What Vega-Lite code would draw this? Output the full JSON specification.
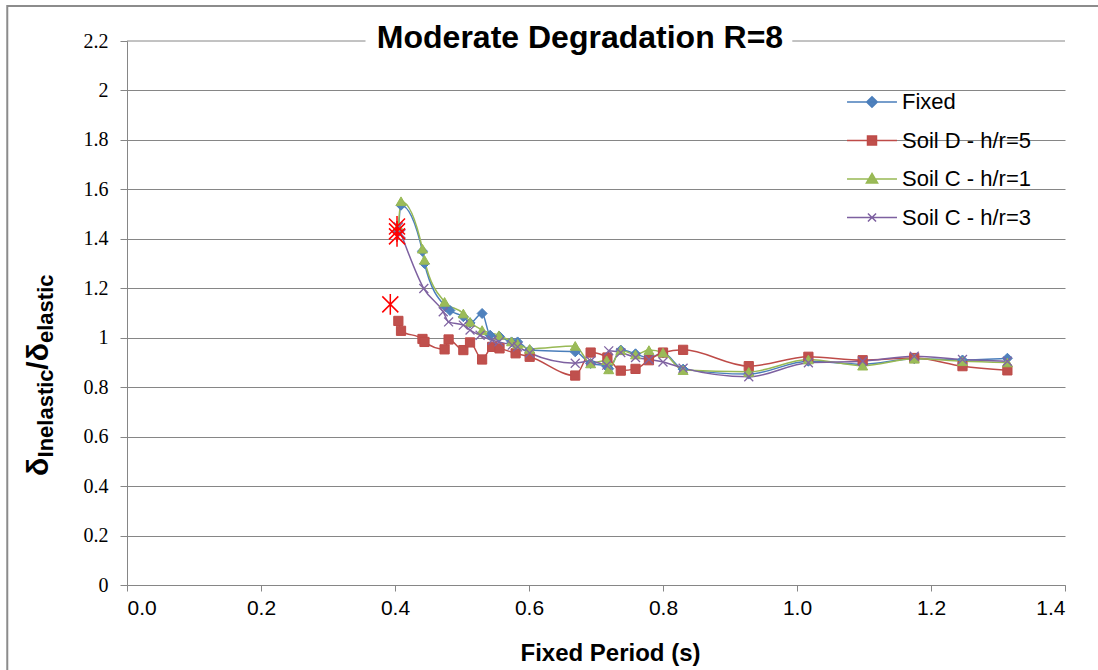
{
  "$schema": "https://vega.github.io/schema/vega-lite/v6.json",
  "width": 938,
  "height": 544,
  "autosize": {"type": "none"},
  "padding": {"left": 127, "top": 41, "right": 33, "bottom": 85},
  "background": "white",
  "config": {
    "view": {"stroke": null},
    "font": "Liberation Sans"
  },
  "title": {
    "text": "Moderate Degradation R=8",
    "font": "Liberation Sans",
    "fontSize": 32,
    "fontWeight": "bold",
    "color": "#000000",
    "anchor": "middle",
    "frame": "group",
    "dx": -16,
    "dy": 68,
    "offset": -7,
    "baseline": "alphabetic"
  },
  "datasets": {
    "series": [
      {"series": "Fixed", "period": 0.405, "ratio": 1.43},
      {"series": "Fixed", "period": 0.409, "ratio": 1.536},
      {"series": "Fixed", "period": 0.441, "ratio": 1.35},
      {"series": "Fixed", "period": 0.444, "ratio": 1.30},
      {"series": "Fixed", "period": 0.476, "ratio": 1.125},
      {"series": "Fixed", "period": 0.482, "ratio": 1.11},
      {"series": "Fixed", "period": 0.502, "ratio": 1.085},
      {"series": "Fixed", "period": 0.512, "ratio": 1.06},
      {"series": "Fixed", "period": 0.530, "ratio": 1.098},
      {"series": "Fixed", "period": 0.542, "ratio": 1.010},
      {"series": "Fixed", "period": 0.556, "ratio": 1.005},
      {"series": "Fixed", "period": 0.574, "ratio": 0.983},
      {"series": "Fixed", "period": 0.583, "ratio": 0.983},
      {"series": "Fixed", "period": 0.601, "ratio": 0.950},
      {"series": "Fixed", "period": 0.669, "ratio": 0.943},
      {"series": "Fixed", "period": 0.692, "ratio": 0.896},
      {"series": "Fixed", "period": 0.716, "ratio": 0.885},
      {"series": "Fixed", "period": 0.719, "ratio": 0.875},
      {"series": "Fixed", "period": 0.737, "ratio": 0.950},
      {"series": "Fixed", "period": 0.759, "ratio": 0.935},
      {"series": "Fixed", "period": 0.779, "ratio": 0.918},
      {"series": "Fixed", "period": 0.800, "ratio": 0.938},
      {"series": "Fixed", "period": 0.830, "ratio": 0.873},
      {"series": "Fixed", "period": 0.928, "ratio": 0.853},
      {"series": "Fixed", "period": 1.017, "ratio": 0.905},
      {"series": "Fixed", "period": 1.098, "ratio": 0.893},
      {"series": "Fixed", "period": 1.175, "ratio": 0.915},
      {"series": "Fixed", "period": 1.247, "ratio": 0.910},
      {"series": "Fixed", "period": 1.314, "ratio": 0.917},

      {"series": "Soil D - h/r=5", "period": 0.405, "ratio": 1.068},
      {"series": "Soil D - h/r=5", "period": 0.409, "ratio": 1.028},
      {"series": "Soil D - h/r=5", "period": 0.441, "ratio": 0.995},
      {"series": "Soil D - h/r=5", "period": 0.444, "ratio": 0.983},
      {"series": "Soil D - h/r=5", "period": 0.474, "ratio": 0.953},
      {"series": "Soil D - h/r=5", "period": 0.480, "ratio": 0.993},
      {"series": "Soil D - h/r=5", "period": 0.502, "ratio": 0.950},
      {"series": "Soil D - h/r=5", "period": 0.512, "ratio": 0.981},
      {"series": "Soil D - h/r=5", "period": 0.530, "ratio": 0.912},
      {"series": "Soil D - h/r=5", "period": 0.545, "ratio": 0.963},
      {"series": "Soil D - h/r=5", "period": 0.556, "ratio": 0.957},
      {"series": "Soil D - h/r=5", "period": 0.580, "ratio": 0.937},
      {"series": "Soil D - h/r=5", "period": 0.601, "ratio": 0.923},
      {"series": "Soil D - h/r=5", "period": 0.669, "ratio": 0.847},
      {"series": "Soil D - h/r=5", "period": 0.692, "ratio": 0.940},
      {"series": "Soil D - h/r=5", "period": 0.717, "ratio": 0.920},
      {"series": "Soil D - h/r=5", "period": 0.737, "ratio": 0.867},
      {"series": "Soil D - h/r=5", "period": 0.759, "ratio": 0.874},
      {"series": "Soil D - h/r=5", "period": 0.779, "ratio": 0.909},
      {"series": "Soil D - h/r=5", "period": 0.800, "ratio": 0.940},
      {"series": "Soil D - h/r=5", "period": 0.830, "ratio": 0.951},
      {"series": "Soil D - h/r=5", "period": 0.928, "ratio": 0.885},
      {"series": "Soil D - h/r=5", "period": 1.017, "ratio": 0.923},
      {"series": "Soil D - h/r=5", "period": 1.098, "ratio": 0.909},
      {"series": "Soil D - h/r=5", "period": 1.175, "ratio": 0.918},
      {"series": "Soil D - h/r=5", "period": 1.247, "ratio": 0.885},
      {"series": "Soil D - h/r=5", "period": 1.314, "ratio": 0.868},

      {"series": "Soil C - h/r=1", "period": 0.405, "ratio": 1.45},
      {"series": "Soil C - h/r=1", "period": 0.409, "ratio": 1.552},
      {"series": "Soil C - h/r=1", "period": 0.441, "ratio": 1.36},
      {"series": "Soil C - h/r=1", "period": 0.444, "ratio": 1.315},
      {"series": "Soil C - h/r=1", "period": 0.474, "ratio": 1.145},
      {"series": "Soil C - h/r=1", "period": 0.502, "ratio": 1.098},
      {"series": "Soil C - h/r=1", "period": 0.512, "ratio": 1.064},
      {"series": "Soil C - h/r=1", "period": 0.530, "ratio": 1.031},
      {"series": "Soil C - h/r=1", "period": 0.555, "ratio": 1.010},
      {"series": "Soil C - h/r=1", "period": 0.574, "ratio": 0.985},
      {"series": "Soil C - h/r=1", "period": 0.583, "ratio": 0.975},
      {"series": "Soil C - h/r=1", "period": 0.601, "ratio": 0.955},
      {"series": "Soil C - h/r=1", "period": 0.669, "ratio": 0.967},
      {"series": "Soil C - h/r=1", "period": 0.692, "ratio": 0.896},
      {"series": "Soil C - h/r=1", "period": 0.716, "ratio": 0.909},
      {"series": "Soil C - h/r=1", "period": 0.719, "ratio": 0.872},
      {"series": "Soil C - h/r=1", "period": 0.737, "ratio": 0.950},
      {"series": "Soil C - h/r=1", "period": 0.759, "ratio": 0.932},
      {"series": "Soil C - h/r=1", "period": 0.779, "ratio": 0.950},
      {"series": "Soil C - h/r=1", "period": 0.800, "ratio": 0.940},
      {"series": "Soil C - h/r=1", "period": 0.830, "ratio": 0.869},
      {"series": "Soil C - h/r=1", "period": 0.928, "ratio": 0.862},
      {"series": "Soil C - h/r=1", "period": 1.017, "ratio": 0.912},
      {"series": "Soil C - h/r=1", "period": 1.098, "ratio": 0.887},
      {"series": "Soil C - h/r=1", "period": 1.175, "ratio": 0.915},
      {"series": "Soil C - h/r=1", "period": 1.247, "ratio": 0.905},
      {"series": "Soil C - h/r=1", "period": 1.314, "ratio": 0.900},

      {"series": "Soil C - h/r=3", "period": 0.405, "ratio": 1.448},
      {"series": "Soil C - h/r=3", "period": 0.409, "ratio": 1.42},
      {"series": "Soil C - h/r=3", "period": 0.443, "ratio": 1.199},
      {"series": "Soil C - h/r=3", "period": 0.472, "ratio": 1.105},
      {"series": "Soil C - h/r=3", "period": 0.480, "ratio": 1.064},
      {"series": "Soil C - h/r=3", "period": 0.502, "ratio": 1.051},
      {"series": "Soil C - h/r=3", "period": 0.512, "ratio": 1.031},
      {"series": "Soil C - h/r=3", "period": 0.527, "ratio": 1.010},
      {"series": "Soil C - h/r=3", "period": 0.545, "ratio": 0.990},
      {"series": "Soil C - h/r=3", "period": 0.555, "ratio": 0.983},
      {"series": "Soil C - h/r=3", "period": 0.575, "ratio": 0.970},
      {"series": "Soil C - h/r=3", "period": 0.583, "ratio": 0.963},
      {"series": "Soil C - h/r=3", "period": 0.601, "ratio": 0.938},
      {"series": "Soil C - h/r=3", "period": 0.669, "ratio": 0.897},
      {"series": "Soil C - h/r=3", "period": 0.692, "ratio": 0.906},
      {"series": "Soil C - h/r=3", "period": 0.716, "ratio": 0.889},
      {"series": "Soil C - h/r=3", "period": 0.719, "ratio": 0.947},
      {"series": "Soil C - h/r=3", "period": 0.737, "ratio": 0.940},
      {"series": "Soil C - h/r=3", "period": 0.759, "ratio": 0.920},
      {"series": "Soil C - h/r=3", "period": 0.779, "ratio": 0.912},
      {"series": "Soil C - h/r=3", "period": 0.800, "ratio": 0.902},
      {"series": "Soil C - h/r=3", "period": 0.830, "ratio": 0.877},
      {"series": "Soil C - h/r=3", "period": 0.928, "ratio": 0.842},
      {"series": "Soil C - h/r=3", "period": 1.017, "ratio": 0.899},
      {"series": "Soil C - h/r=3", "period": 1.098, "ratio": 0.905},
      {"series": "Soil C - h/r=3", "period": 1.175, "ratio": 0.925},
      {"series": "Soil C - h/r=3", "period": 1.247, "ratio": 0.912},
      {"series": "Soil C - h/r=3", "period": 1.314, "ratio": 0.905}
    ],
    "stars": [
      {"period": 0.403, "ratio": 1.45},
      {"period": 0.403, "ratio": 1.43},
      {"period": 0.403, "ratio": 1.41},
      {"period": 0.393, "ratio": 1.135}
    ],
    "one": [{"k": 1}]
  },
  "layer": [
    {
      "data": {"name": "one"},
      "mark": {"type": "rect", "fill": null, "fillOpacity": 0, "stroke": "#8C8C8C", "strokeWidth": 2, "clip": false},
      "encoding": {
        "x": {"datum": -0.1787},
        "x2": {"datum": 1.46},
        "y": {"datum": 2.3416},
        "y2": {"datum": -0.4}
      }
    },
    {
      "data": {"name": "one"},
      "mark": {"type": "rule", "color": "#868686", "strokeWidth": 1},
      "encoding": {
        "x": {"datum": 0},
        "x2": {"datum": 0.356},
        "y": {"datum": 2.2}
      }
    },
    {
      "data": {"name": "one"},
      "mark": {"type": "rule", "color": "#868686", "strokeWidth": 1},
      "encoding": {
        "x": {"datum": 0.993},
        "x2": {"datum": 1.4},
        "y": {"datum": 2.2}
      }
    },
    {
      "data": {"name": "series"},
      "mark": {"type": "line", "interpolate": "monotone", "strokeWidth": 1.5},
      "encoding": {
        "x": {
          "field": "period", "type": "quantitative",
          "scale": {"domain": [0, 1.4], "nice": false, "zero": false},
          "axis": {
            "values": [0, 0.2, 0.4, 0.6, 0.8, 1.0, 1.2, 1.4],
            "format": ".1f",
            "grid": false,
            "domainColor": "#868686",
            "tickColor": "#868686",
            "tickSize": 6,
            "labelFont": "Liberation Sans",
            "labelFontSize": 21,
            "labelColor": "#000000",
            "labelPadding": 6,
            "title": "Fixed Period (s)",
            "titleFont": "Liberation Sans",
            "titleFontSize": 24,
            "titleFontWeight": "bold",
            "titleColor": "#000000",
            "titleX": 483,
            "titleY": 75,
            "titleBaseline": "alphabetic"
          }
        },
        "y": {
          "field": "ratio", "type": "quantitative",
          "scale": {"domain": [0, 2.2], "nice": false, "zero": true},
          "axis": {
            "values": [0, 0.2, 0.4, 0.6, 0.8, 1, 1.2, 1.4, 1.6, 1.8, 2, 2.2],
            "format": "~g",
            "grid": true,
            "gridColor": "#868686",
            "gridWidth": 1,
            "gridOpacity": {"condition": {"test": "datum.value > 2.1", "value": 0}, "value": 1},
            "domainColor": "#868686",
            "tickColor": "#868686",
            "tickSize": 7,
            "labelFont": "Liberation Serif",
            "labelFontSize": 20,
            "labelColor": "#000000",
            "labelPadding": 12,
            "title": null
          }
        },
        "color": {
          "field": "series", "type": "nominal",
          "scale": {
            "domain": ["Fixed", "Soil D - h/r=5", "Soil C - h/r=1", "Soil C - h/r=3"],
            "range": ["#4A7EBB", "#BE4B48", "#98B954", "#7D60A0"]
          },
          "legend": {
            "title": null,
            "orient": "none",
            "legendX": 734,
            "legendY": 50,
            "padding": 0,
            "labelFont": "Liberation Sans",
            "labelFontSize": 22,
            "labelColor": "#000000",
            "labelOffset": 19,
            "rowPadding": 16.5,
            "symbolSize": 156,
            "symbolStrokeWidth": 1.5,
            "encode": {
              "symbols": {
                "update": {
                  "shape": {"signal": "datum.value == 'Fixed' ? 'M-4,0L4,0M0,-0.85L0.85,0L0,0.85L-0.85,0Z' : datum.value == 'Soil D - h/r=5' ? 'M-4,0L4,0M-0.72,-0.72L0.72,-0.72L0.72,0.72L-0.72,0.72Z' : datum.value == 'Soil C - h/r=1' ? 'M-4,0L4,0M0,-0.9L0.9,0.65L-0.9,0.65Z' : 'M-4,0L4,0M-0.65,-0.65L0.65,0.65M-0.65,0.65L0.65,-0.65'"},
                  "fill": {"signal": "datum.value == 'Fixed' ? '#4F81BD' : datum.value == 'Soil D - h/r=5' ? '#C0504D' : datum.value == 'Soil C - h/r=1' ? '#9BBB59' : '#8064A2'"},
                  "stroke": {"signal": "datum.value == 'Fixed' ? '#4A7EBB' : datum.value == 'Soil D - h/r=5' ? '#BE4B48' : datum.value == 'Soil C - h/r=1' ? '#98B954' : '#7D60A0'"},
                  "opacity": {"value": 1},
                  "fillOpacity": {"value": 1},
                  "strokeWidth": {"value": 1.5}
                }
              }
            }
          }
        }
      }
    },
    {
      "data": {"name": "series"},
      "transform": [{"filter": "datum.series == 'Fixed'"}],
      "mark": {"type": "point", "shape": "diamond", "filled": true, "fill": "#4F81BD", "stroke": "#4A7EBB", "strokeWidth": 1, "opacity": 1, "size": 100},
      "encoding": {
        "x": {"field": "period", "type": "quantitative"},
        "y": {"field": "ratio", "type": "quantitative"}
      }
    },
    {
      "data": {"name": "series"},
      "transform": [{"filter": "datum.series == 'Soil D - h/r=5'"}],
      "mark": {"type": "point", "shape": "square", "filled": true, "fill": "#C0504D", "stroke": "#BE4B48", "strokeWidth": 1, "opacity": 1, "size": 85},
      "encoding": {
        "x": {"field": "period", "type": "quantitative"},
        "y": {"field": "ratio", "type": "quantitative"}
      }
    },
    {
      "data": {"name": "series"},
      "transform": [{"filter": "datum.series == 'Soil C - h/r=1'"}],
      "mark": {"type": "point", "shape": "triangle-up", "filled": true, "fill": "#9BBB59", "stroke": "#98B954", "strokeWidth": 1, "opacity": 1, "size": 100},
      "encoding": {
        "x": {"field": "period", "type": "quantitative"},
        "y": {"field": "ratio", "type": "quantitative"}
      }
    },
    {
      "data": {"name": "series"},
      "transform": [{"filter": "datum.series == 'Soil C - h/r=3'"}],
      "mark": {"type": "point", "shape": "M-1,-1L1,1M-1,1L1,-1", "filled": false, "stroke": "#8064A2", "strokeWidth": 1.3, "opacity": 1, "size": 80},
      "encoding": {
        "x": {"field": "period", "type": "quantitative"},
        "y": {"field": "ratio", "type": "quantitative"}
      }
    },
    {
      "data": {"name": "stars"},
      "mark": {"type": "point", "filled": false, "shape": "M-1,-1L1,1M-1,1L1,-1M0,-1.3L0,1.3", "size": 256, "stroke": "#FF0000", "strokeWidth": 1.5, "opacity": 1},
      "encoding": {
        "x": {"field": "period", "type": "quantitative"},
        "y": {"field": "ratio", "type": "quantitative"}
      }
    },
    {
      "data": {"name": "one"},
      "mark": {"type": "text", "angle": 270, "align": "left", "baseline": "alphabetic", "font": "Liberation Sans", "fontSize": 30, "fontWeight": "bold", "color": "#000000"},
      "encoding": {"x": {"datum": -0.1179}, "y": {"datum": 0.4408}, "text": {"value": "δ"}}
    },
    {
      "data": {"name": "one"},
      "mark": {"type": "text", "angle": 270, "align": "left", "baseline": "alphabetic", "font": "Liberation Sans", "fontSize": 22, "fontWeight": "bold", "color": "#000000"},
      "encoding": {"x": {"datum": -0.1104}, "y": {"datum": 0.5157}, "text": {"value": "Inelastic"}}
    },
    {
      "data": {"name": "one"},
      "mark": {"type": "text", "angle": 270, "align": "left", "baseline": "alphabetic", "font": "Liberation Sans", "fontSize": 30, "fontWeight": "bold", "color": "#000000"},
      "encoding": {"x": {"datum": -0.1179}, "y": {"datum": 0.8707}, "text": {"value": "/δ"}}
    },
    {
      "data": {"name": "one"},
      "mark": {"type": "text", "angle": 270, "align": "left", "baseline": "alphabetic", "font": "Liberation Sans", "fontSize": 22, "fontWeight": "bold", "color": "#000000"},
      "encoding": {"x": {"datum": -0.1104}, "y": {"datum": 0.9787}, "text": {"value": "elastic"}}
    }
  ]
}
